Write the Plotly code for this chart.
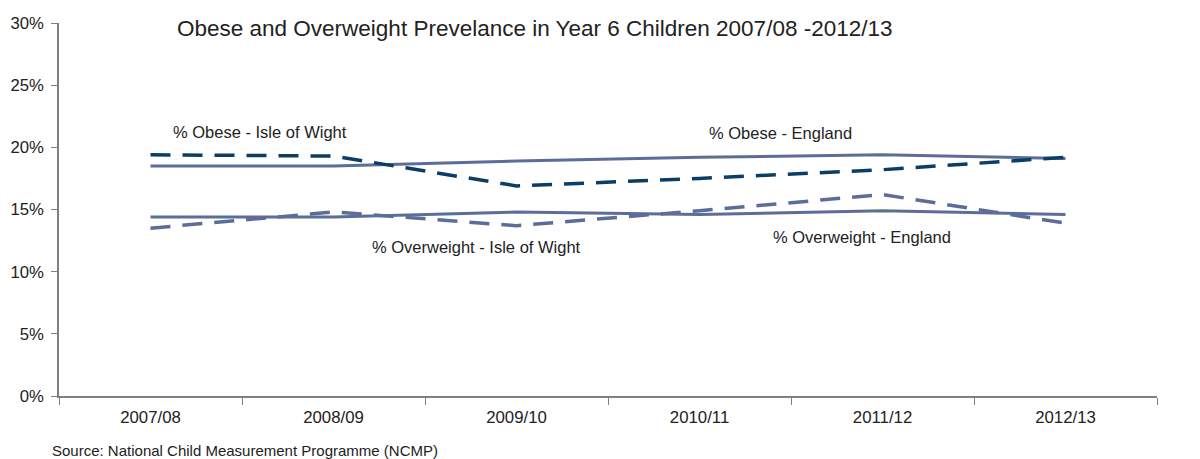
import plotly.graph_objects as go

years = ["2007/08", "2008/09", "2009/10", "2010/11", "2011/12", "2012/13"]
obese_england = [18.5, 18.5, 18.9, 19.2, 19.4, 19.1]
obese_iow = [19.4, 19.3, 16.9, 17.5, 18.2, 19.2]
overweight_england = [14.4, 14.4, 14.8, 14.6, 14.9, 14.6]
overweight_iow = [13.5, 14.8, 13.7, 14.9, 16.2, 13.9]

navy = "#0b3d66"
steel = "#5d6d99"

fig = go.Figure()
fig.add_trace(go.Scatter(x=years, y=obese_england, mode="lines",
                         line=dict(color=steel, width=3), name="% Obese - England"))
fig.add_trace(go.Scatter(x=years, y=overweight_england, mode="lines",
                         line=dict(color=steel, width=3), name="% Overweight - England"))
fig.add_trace(go.Scatter(x=years, y=overweight_iow, mode="lines",
                         line=dict(color=steel, width=3.5, dash="20px,12px"),
                         name="% Overweight - Isle of Wight"))
fig.add_trace(go.Scatter(x=years, y=obese_iow, mode="lines",
                         line=dict(color=navy, width=3.5, dash="20px,12px"),
                         name="% Obese - Isle of Wight"))

labels = [
    ("% Obese - Isle of Wight", 0.6, 21.2),
    ("% Obese - England", 3.44, 21.15),
    ("% Overweight - Isle of Wight", 1.78, 12.0),
    ("% Overweight - England", 3.89, 12.8),
]
for text, x, y in labels:
    fig.add_annotation(x=x, y=y, xref="x", yref="y", text=text, showarrow=False,
                       font=dict(size=16.5, color="#222222"))

fig.add_annotation(xref="paper", yref="paper",
                   x=(50 - 59) / 1098, y=(396 - 451) / 373,
                   text="Source: National Child Measurement Programme (NCMP)",
                   showarrow=False, font=dict(size=15, color="#222222"),
                   xanchor="left", yanchor="middle")

fig.update_layout(
    width=1200, height=459,
    margin=dict(l=59, r=43, t=23, b=63),
    paper_bgcolor="white", plot_bgcolor="white",
    showlegend=False,
    font=dict(family="Liberation Sans, Arial, sans-serif", color="#222222"),
    title=dict(text="Obese and Overweight Prevelance in Year 6 Children 2007/08 -2012/13",
               x=177 / 1200, xanchor="left", y=1 - 28 / 459, yanchor="middle",
               font=dict(size=22.5, color="#222222")),
)
fig.update_xaxes(
    type="category", range=[-0.5, 5.5],
    showline=True, linecolor="#808080", linewidth=1.5,
    ticks="outside", ticklen=7, tickcolor="#808080",
    tickson="boundaries", showgrid=False, zeroline=False,
    ticklabelstandoff=5,
    tickfont=dict(size=16.8, color="#222222"),
)
fig.update_yaxes(
    range=[0, 30], dtick=5, ticksuffix="%",
    showline=True, linecolor="#808080", linewidth=1.5,
    ticks="outside", ticklen=6, tickcolor="#808080",
    showgrid=False, zeroline=False,
    ticklabelstandoff=4,
    tickfont=dict(size=16.7, color="#222222"),
)

fig.write_html("out.html")
